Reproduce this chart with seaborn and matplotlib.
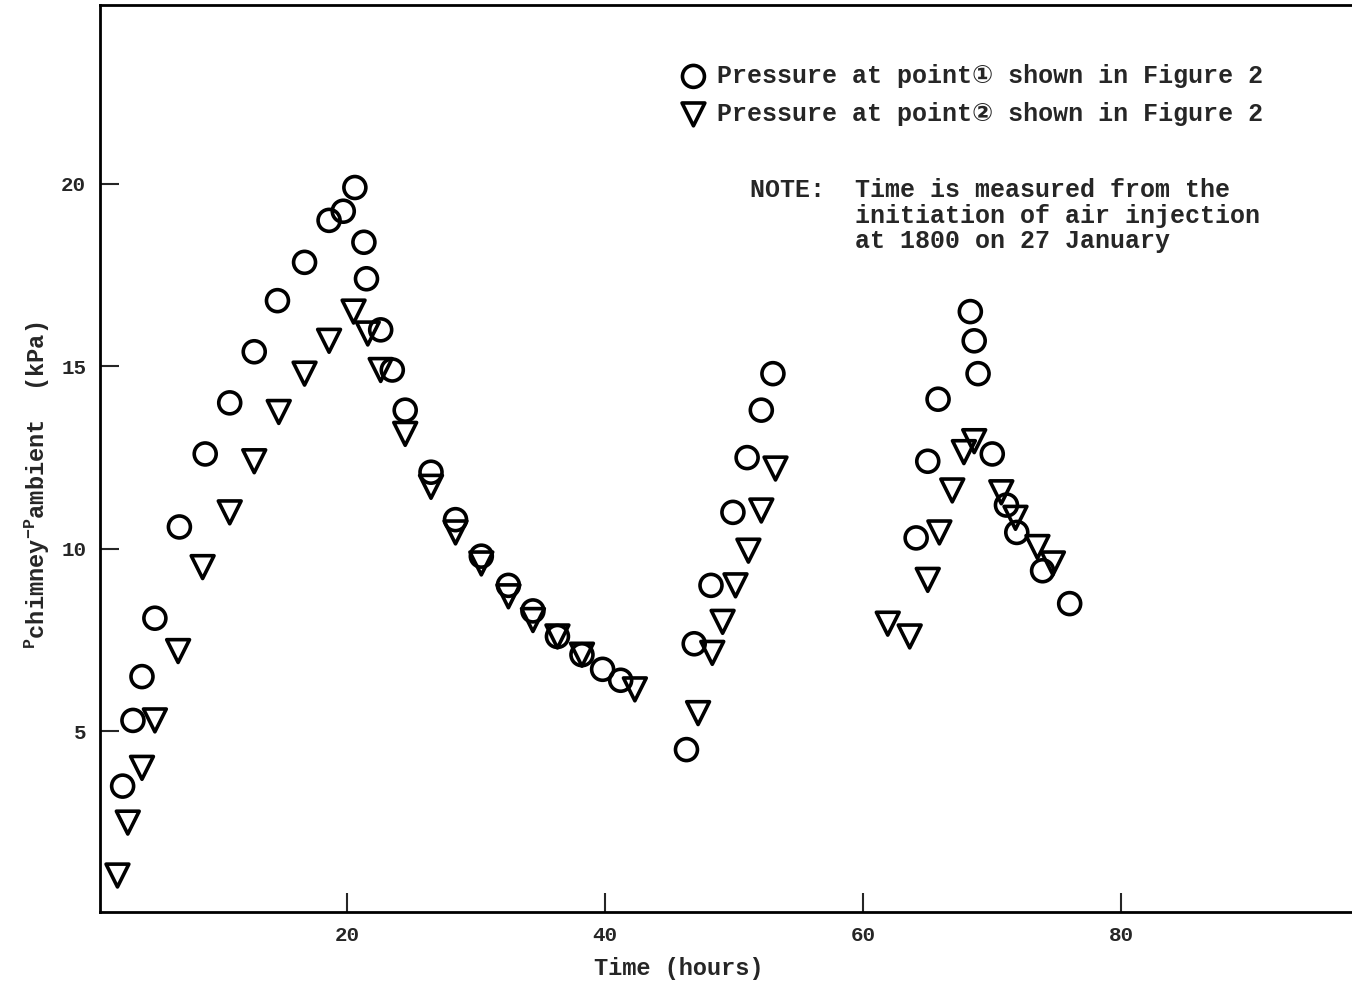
import numpy as np
import pandas as pd
import matplotlib
matplotlib.use("Agg")
import matplotlib.pyplot as plt
import seaborn as sns

# values
time_p1 = [2.6, 3.4, 4.1, 5.1, 7.0, 9.0, 10.9, 12.8, 14.6, 16.7, 18.6, 19.7,
           20.6, 21.3, 21.5, 22.6, 23.5, 24.5, 26.5, 28.4, 30.4, 32.5, 34.4,
           36.3, 38.2, 39.8, 41.2,
           46.3, 46.9, 48.2, 49.9, 51.0, 52.1, 53.0,
           64.1, 65.0, 65.8, 68.3, 68.6, 68.9, 70.0, 71.1, 71.9, 73.9, 76.0]
pres_p1 = [3.5, 5.3, 6.5, 8.1, 10.6, 12.6, 14.0, 15.4, 16.8, 17.85, 19.0, 19.25,
           19.9, 18.4, 17.4, 16.0, 14.9, 13.8, 12.1, 10.8, 9.8, 9.0, 8.3,
           7.6, 7.1, 6.7, 6.4,
           4.5, 7.4, 9.0, 11.0, 12.5, 13.8, 14.8,
           10.3, 12.4, 14.1, 16.5, 15.7, 14.8, 12.6, 11.2, 10.45, 9.4, 8.5]

time_p2 = [2.2, 3.0, 4.1, 5.1, 6.9, 8.8, 10.9, 12.8, 14.7, 16.7, 18.6, 20.5,
           21.6, 22.6, 24.5, 26.5, 28.4, 30.4, 32.5, 34.4, 36.3, 38.2, 42.3,
           47.2, 48.3, 49.1, 50.1, 51.1, 52.1, 53.2,
           61.9, 63.6, 65.0, 65.9, 66.9, 67.8, 68.6, 70.7, 71.8, 73.5, 74.7]
pres_p2 = [1.05, 2.5, 4.0, 5.3, 7.2, 9.5, 11.0, 12.4, 13.75, 14.8, 15.7, 16.5,
           15.9, 14.9, 13.15, 11.7, 10.45, 9.6, 8.7, 8.05, 7.6, 7.1, 6.15,
           5.5, 7.15, 8.0, 9.0, 9.95, 11.05, 12.2,
           7.95, 7.6, 9.15, 10.45, 11.6, 12.65, 12.95, 11.55, 10.85, 10.05, 9.6]

x_ticks = [20, 40, 60, 80]
y_ticks = [5, 10, 15, 20]

label_p1 = "Pressure at point\u2460 shown in Figure 2"
label_p2 = "Pressure at point\u2461 shown in Figure 2"
note_text = ("NOTE:  Time is measured from the\n"
             "       initiation of air injection\n"
             "       at 1800 on 27 January")

sns.set_style("ticks")
plt.rcParams["font.family"] = ["Liberation Mono", "DejaVu Sans"]
plt.rcParams["font.weight"] = "bold"
plt.rcParams["mathtext.default"] = "bf"
plt.rcParams["mathtext.fontset"] = "custom"
plt.rcParams["mathtext.bf"] = "Liberation Mono:bold"
plt.rcParams["mathtext.rm"] = "Liberation Mono:bold"

fig = plt.figure(figsize=(13.52, 9.81), dpi=100)
ax = fig.add_axes([0.074, 0.0703, 0.93, 0.9246])

df1 = pd.DataFrame({"t": time_p1, "p": pres_p1})
df2 = pd.DataFrame({"t": time_p2, "p": pres_p2})

sns.scatterplot(data=df1, x="t", y="p", ax=ax, marker="o", s=250,
                facecolors="none", edgecolor="black", linewidth=2.6,
                label=label_p1, zorder=3)
sns.scatterplot(data=df2, x="t", y="p", ax=ax, marker="v", s=270,
                facecolors="none", edgecolor="black", linewidth=2.6,
                label=label_p2, zorder=3)

ax.set_xlim(0.85, 98.3)
ax.set_ylim(0.05, 24.9)
ax.set_xticks(x_ticks)
ax.set_yticks(y_ticks)
ax.tick_params(direction="in", length=14, width=1.5, labelsize=15, pad=10)

for side in ["left", "bottom", "top", "right"]:
    ax.spines[side].set_linewidth(2.0)
    ax.spines[side].set_color("black")

ax.set_xlabel("Time (hours)", fontsize=17, fontweight="bold")
ax.xaxis.set_label_coords(0.46, -0.05)
ax.set_ylabel(r"$^{P}$chimney$^{-P}$ambient  (kPa)", fontsize=17,
              fontweight="bold")
ax.yaxis.set_label_coords(-0.038, 0.47)

leg = ax.legend(loc="upper left", bbox_to_anchor=(0.462, 0.935), frameon=False,
                prop={"family": ["Liberation Mono", "DejaVu Sans"],
                      "weight": "bold", "size": 18},
                handletextpad=0.45, labelspacing=0.56, handlelength=1.0,
                borderpad=0, borderaxespad=0)

ax.text(0.517, 0.809, note_text, transform=ax.transAxes, fontsize=18,
        fontweight="bold", va="top", ha="left", linespacing=1.07)

fig.savefig("out.png", dpi=100)
